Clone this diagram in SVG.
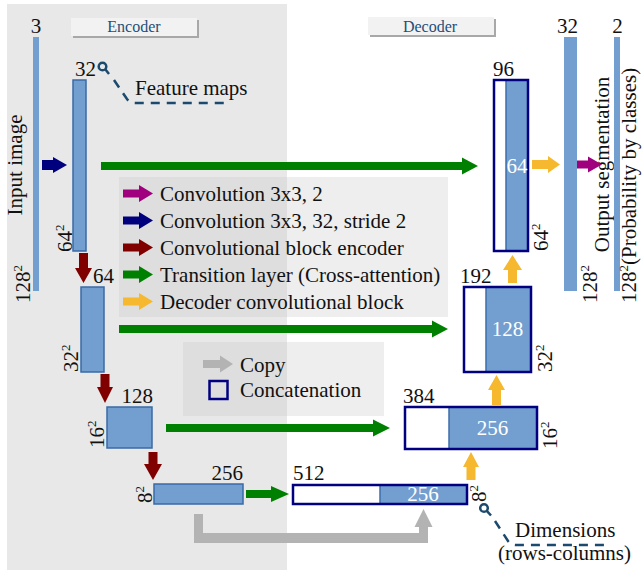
<svg xmlns="http://www.w3.org/2000/svg" width="642" height="570" viewBox="0 0 642 570" font-family="'Liberation Serif', serif">
<defs>
<style>
text{font-family:'Liberation Serif','DejaVu Serif',serif;font-size:21px;fill:#111}
.sup{font-size:13px}
.wt{fill:#fff;text-anchor:middle}
.tag{font-size:16px;fill:#1f4e79;text-anchor:middle}
.enc{fill:#729fcf;stroke:#3a6aa6;stroke-width:1.5}
.bar{fill:#729fcf}
.cat{fill:none;stroke:#000080;stroke-width:2.5}
.catw{fill:#fff}
.catb{fill:#729fcf}
.sep{stroke:#3d6eab;stroke-width:1.5}
.green{fill:#008000}
.navy{fill:#00007f}
.red{fill:#800000}
.yel{fill:#f5b82e}
.mag{fill:#a0007e}
.gry{fill:#b3b3b3}
.lbox{fill:#c8c8c8;fill-opacity:0.3}
.dash{fill:none;stroke:#1b4a6e;stroke-width:2.5;stroke-dasharray:9,7}
.mg{fill:none;stroke:#1b4a6e;stroke-width:2.5}
</style>
</defs>
<rect x="7" y="4" width="280" height="566" fill="#e8e8e8"/>

<g id="label-encoder">
<rect x="73" y="20" width="126" height="18" fill="#a8a8a8"/>
<rect x="71" y="18" width="126" height="18" fill="#f2f2f2"/>
<text class="tag" x="134" y="32">Encoder</text>
</g>
<g id="label-decoder">
<rect x="370" y="19" width="126" height="18" fill="#a8a8a8"/>
<rect x="368" y="17" width="126" height="18" fill="#f2f2f2"/>
<text class="tag" x="430" y="32">Decoder</text>
</g>

<g id="legend">
<rect class="lbox" x="119" y="177" width="329" height="140"/>
<polygon class="mag" points="123,189.5 139,189.5 139,185 153,193.5 139,202 139,197.5 123,197.5"/>
<polygon class="navy" points="123,216.5 139,216.5 139,212 153,220.5 139,229 139,224.5 123,224.5"/>
<polygon class="red" points="123,243.5 139,243.5 139,239 153,247.5 139,256 139,251.5 123,251.5"/>
<polygon class="green" points="123,270.5 139,270.5 139,266 153,274.5 139,283 139,278.5 123,278.5"/>
<polygon class="yel" points="123,297.5 139,297.5 139,293 153,301.5 139,310 139,305.5 123,305.5"/>
<text x="160" y="200.5">Convolution 3x3, 2</text>
<text x="160" y="227.5">Convolution 3x3, 32, stride 2</text>
<text x="160" y="254.5">Convolutional block encoder</text>
<text x="160" y="281.5">Transition layer (Cross-attention)</text>
<text x="160" y="308.5">Decoder convolutional block</text>
</g>

<g id="legend2">
<rect class="lbox" x="183" y="342" width="201" height="74"/>
<polygon class="gry" points="203,360 220,360 220,355.5 233,364 220,372.5 220,368 203,368"/>
<rect x="209.5" y="381" width="18" height="18" fill="none" stroke="#000080" stroke-width="2.5"/>
<text x="240" y="372">Copy</text>
<text x="240" y="397">Concatenation</text>
</g>

<g id="input">
<rect class="bar" x="33" y="37" width="6" height="254"/>
<text x="36" y="33" text-anchor="middle">3</text>
<text transform="translate(22,165) rotate(-90)" text-anchor="middle">Input image</text>
<text transform="translate(30,303) rotate(-90)">128<tspan class="sup" dy="-8">2</tspan></text>
</g>

<g id="enc1">
<rect class="enc" x="73" y="80" width="13" height="171"/>
<text x="75" y="76">32</text>
<text transform="translate(72,252) rotate(-90)">64<tspan class="sup" dy="-8">2</tspan></text>
</g>
<g id="note-feature">
<circle class="mg" cx="102.5" cy="66.5" r="3.8"/>
<line class="mg" x1="105.3" y1="69.3" x2="109" y2="74"/>
<path class="dash" d="M114,80 L127,99 Q130,103 135,103 H230"/>
<text x="135" y="95">Feature maps</text>
</g>
<g id="enc2">
<rect class="enc" x="81" y="287" width="23" height="85"/>
<text x="93" y="283">64</text>
<text transform="translate(78,372) rotate(-90)">32<tspan class="sup" dy="-8">2</tspan></text>
</g>
<g id="enc3">
<rect class="enc" x="107" y="407" width="45" height="41"/>
<text x="153" y="403" text-anchor="end">128</text>
<text transform="translate(104,448) rotate(-90)">16<tspan class="sup" dy="-8">2</tspan></text>
</g>
<g id="enc4">
<rect class="enc" x="154" y="484" width="89" height="20"/>
<text x="243" y="480" text-anchor="end">256</text>
<text transform="translate(152,503) rotate(-90)">8<tspan class="sup" dy="-8">2</tspan></text>
</g>

<g id="dec512">
<rect class="catw" x="293" y="485" width="174" height="19"/>
<rect class="catb" x="380" y="485" width="87" height="19"/>
<line class="sep" x1="380" y1="485" x2="380" y2="504"/>
<rect class="cat" x="293" y="485" width="174" height="19"/>
<text x="293" y="480">512</text>
<text class="wt" x="423" y="500.5">256</text>
<text transform="translate(486,502) rotate(-90)">8<tspan class="sup" dy="-8">2</tspan></text>
</g>
<g id="note-dimensions">
<circle class="mg" cx="484" cy="508" r="3.8"/>
<line class="mg" x1="486.8" y1="510.8" x2="491" y2="515.5"/>
<path class="dash" d="M495,521 L508,541 Q511,545 516,545 H608"/>
<text x="515" y="537">Dimensions</text>
<text x="498" y="560">(rows-columns)</text>
</g>
<g id="dec384">
<rect class="catw" x="405" y="407" width="132" height="42"/>
<rect class="catb" x="449" y="407" width="88" height="42"/>
<line class="sep" x1="449" y1="407" x2="449" y2="449"/>
<rect class="cat" x="405" y="407" width="132" height="42"/>
<text x="403" y="403">384</text>
<text class="wt" x="492.5" y="435">256</text>
<text transform="translate(557,449) rotate(-90)">16<tspan class="sup" dy="-8">2</tspan></text>
</g>
<g id="dec192">
<rect class="catw" x="464" y="287" width="67" height="85"/>
<rect class="catb" x="486" y="287" width="45" height="85"/>
<line class="sep" x1="486" y1="287" x2="486" y2="372"/>
<rect class="cat" x="464" y="287" width="67" height="85"/>
<text x="460" y="283">192</text>
<text class="wt" x="507.5" y="336">128</text>
<text transform="translate(552,372) rotate(-90)">32<tspan class="sup" dy="-8">2</tspan></text>
</g>
<g id="dec96">
<rect class="catw" x="494" y="80" width="34" height="171"/>
<rect class="catb" x="506" y="80" width="22" height="171"/>
<line class="sep" x1="506" y1="80" x2="506" y2="251"/>
<rect class="cat" x="494" y="80" width="34" height="171"/>
<text x="493" y="76">96</text>
<text class="wt" x="517" y="173">64</text>
<text transform="translate(548,251) rotate(-90)">64<tspan class="sup" dy="-8">2</tspan></text>
</g>

<g id="out32">
<rect class="bar" x="564" y="37" width="13" height="254"/>
<text x="557" y="33">32</text>
<text transform="translate(597,303) rotate(-90)">128<tspan class="sup" dy="-8">2</tspan></text>
<text transform="translate(609,164.5) rotate(-90)" text-anchor="middle">Output segmentation</text>
</g>
<g id="out2">
<rect class="bar" x="614" y="37" width="6" height="254"/>
<text x="617.5" y="33" text-anchor="middle">2</text>
<text transform="translate(636,303) rotate(-90)">128<tspan class="sup" dy="-8">2</tspan><tspan dy="8">(Probability by classes)</tspan></text>
</g>

<g id="connectors">
<polygon class="navy" points="42,160 53,160 53,157 67,165 53,173 53,170 42,170"/>
<polygon class="green" points="101,162 462,162 462,157.5 478,166 462,174.5 462,170 101,170"/>
<polygon class="yel" points="532,160 548,160 548,156 560,164.5 548,173 548,169 532,169"/>
<polygon class="mag" points="577,160.5 588,160.5 588,156.5 602,164.5 588,172.5 588,168.5 577,168.5"/>
<polygon class="red" points="79,253 88,253 88,268 92,268 83.5,283 75,268 79,268"/>
<polygon class="green" points="119,325 432,325 432,320.5 448,329 432,337.5 432,333 119,333"/>
<polygon class="red" points="100.5,374 109.5,374 109.5,387 113,387 105,403 97,387 100.5,387"/>
<polygon class="green" points="166,424 373,424 373,419.5 390,428 373,436.5 373,432 166,432"/>
<polygon class="red" points="148.5,452 157.5,452 157.5,464 162,464 153,480 144,464 148.5,464"/>
<polygon class="green" points="246,490 271,490 271,486 289,494 271,502 271,498 246,498"/>
<polygon class="yel" points="466.5,480 475.5,480 475.5,467 479,467 471,452 463,467 466.5,467"/>
<polygon class="yel" points="492,405 501,405 501,390 505,390 496.5,375 488,390 492,390"/>
<polygon class="yel" points="508,283 517,283 517,270 522,270 512.5,255 503,270 508,270"/>
<polygon class="gry" points="194,514 203,514 203,533 419,533 419,527 414.5,527 423.5,509 432.5,527 428,527 428,543 194,543"/>
</g>
</svg>
